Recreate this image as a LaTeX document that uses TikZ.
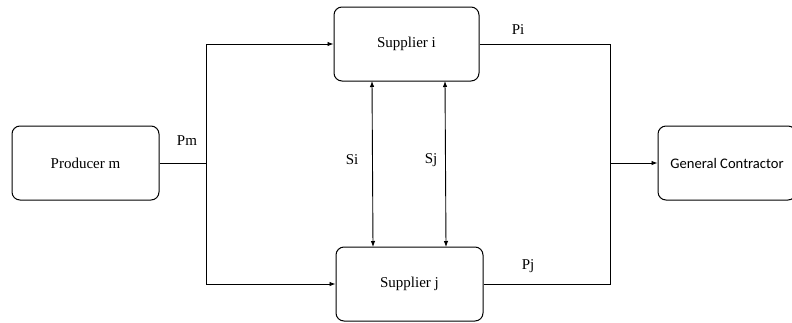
\documentclass[tikz,border=0pt]{standalone}
\usepackage{fontspec}
\setmainfont{Liberation Serif}
\newfontfamily\gcfont{Carlito}
\usetikzlibrary{arrows.meta}
\tikzset{
  blk/.style={draw, line width=1pt, rounded corners=8pt, inner sep=0pt, minimum height=74pt, font=\fontsize{15}{17}\selectfont},
  lab/.style={inner sep=0pt, font=\fontsize{15}{17}\selectfont},
  conn/.style={line width=0.9pt},
  arr/.style={conn, -{Latex[length=6pt,width=4.5pt]}},
  darr/.style={conn, {Latex[length=6pt,width=4.5pt]}-{Latex[length=6pt,width=4.5pt]}}
}
\begin{document}
\begin{tikzpicture}[x=1pt,y=-1pt]
\useasboundingbox (0,0) rectangle (792,322);
\clip (0,0) rectangle (792,322);
\node[blk, minimum width=147pt] (prod) at (85.5,163) {Producer m};
\node[blk, minimum width=145pt] (si) at (406.5,44) {Supplier i};
\node[blk, minimum width=147pt] (sj) at (409.5,284) {Supplier j};
\node[blk, minimum width=138pt, font=\gcfont\fontsize{14.6}{17}\selectfont] (gc) at (727,163) {General Contractor};
\coordinate (jl) at (206,163);
\coordinate (jr) at (610,163);
\draw[conn] (prod.east) -- (jl);
\draw[arr] (jl) |- (si.west);
\draw[arr] (jl) |- (sj.west);
\draw[conn] (si.east) -| (jr);
\draw[conn] (sj.east) -| (jr);
\draw[arr] (jr) -- (gc.west);
\coordinate (a1) at (372,81);
\coordinate (a2) at (373,247);
\coordinate (b1) at (445,81);
\coordinate (b2) at (446,247);
\draw[darr] (a1) -- (a2);
\draw[darr] (b1) -- (b2);
\node[lab] (pm) at (187,141) {Pm};
\node[lab] (pi) at (518,30) {Pi};
\node[lab] (pj) at (528,266) {Pj};
\node[lab] (lsi) at (352,160) {Si};
\node[lab] (lsj) at (431,160) {Sj};
\end{tikzpicture}
\end{document}
